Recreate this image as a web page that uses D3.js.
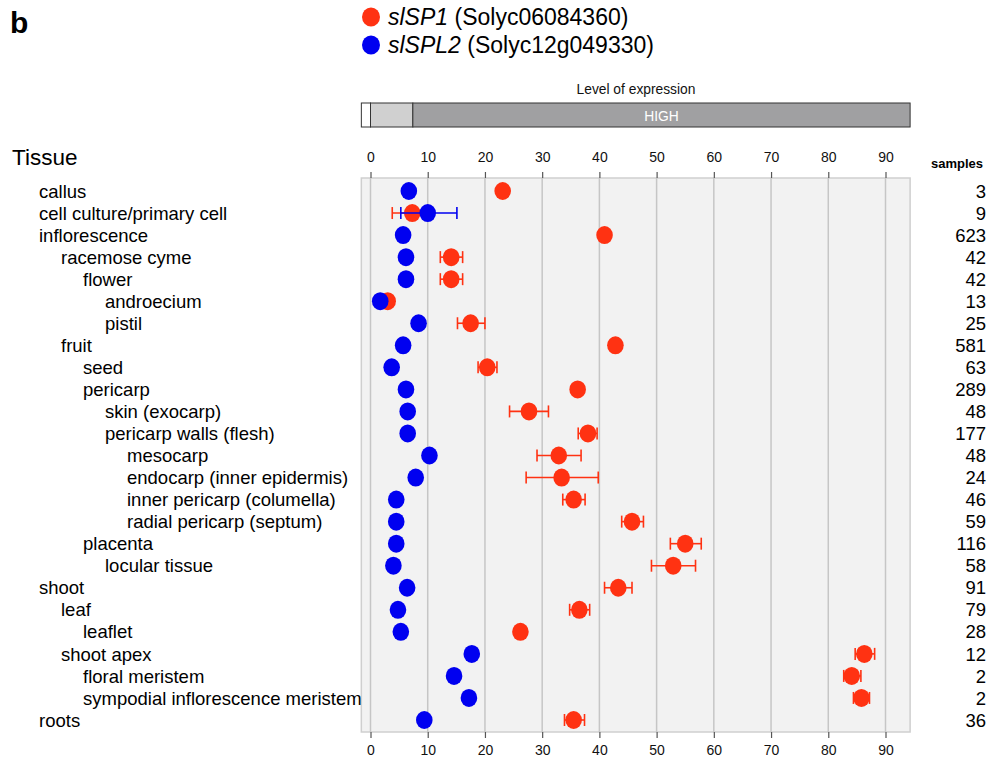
<!DOCTYPE html>
<html><head><meta charset="utf-8">
<script src="https://cdn.jsdelivr.net/npm/d3@7"></script>
<style>
body{margin:0;background:#fff;}
svg{display:block;font-family:"Liberation Sans",Arial,Helvetica,sans-serif;}
</style></head>
<body><svg id="c" width="987" height="768"></svg>
<script>
const tissues = ["callus","cell culture/primary cell","inflorescence","racemose cyme","flower","androecium","pistil","fruit","seed","pericarp","skin (exocarp)","pericarp walls (flesh)","mesocarp","endocarp (inner epidermis)","inner pericarp (columella)","radial pericarp (septum)","placenta","locular tissue","shoot","leaf","leaflet","shoot apex","floral meristem","sympodial inflorescence meristem","roots"];
const levels = [0,0,0,1,2,3,3,1,2,2,3,3,4,4,4,4,2,3,0,1,2,1,2,2,0];
const samples = [3,9,623,42,42,13,25,581,63,289,48,177,48,24,46,59,116,58,91,79,28,12,2,2,36];
// slSP1 (red): mean, lower, upper (null = no error bar)
const sp1 = [23.1,7.3,40.9,14.1,14.1,3.0,17.5,42.8,20.4,36.2,27.7,38.0,32.9,33.4,35.5,45.7,55.0,52.9,43.3,36.5,26.2,86.3,84.1,85.8,35.5];
const sp1Lo = [null,3.8,null,12.2,12.2,null,15.2,null,18.8,null,24.3,36.3,29.1,27.2,33.6,43.9,52.4,49.1,40.9,34.8,null,84.7,82.7,84.4,33.9];
const sp1Hi = [null,10.8,null,16.1,16.1,null,20.0,null,22.1,null,31.1,39.6,36.8,39.8,37.5,47.7,57.8,56.8,45.7,38.3,null,88.1,85.7,87.2,37.4];
// slSPL2 (blue)
const spl2 = [6.7,10.0,5.7,6.2,6.2,1.7,8.4,5.7,3.7,6.2,6.5,6.5,10.3,7.9,4.5,4.5,4.5,4.0,6.4,4.8,5.3,17.7,14.6,17.2,9.4];
const spl2Lo = [null,5.3,null,null,null,null,null,null,null,null,null,null,null,null,null,null,null,null,null,null,null,null,null,null,null];
const spl2Hi = [null,15.1,null,null,null,null,null,null,null,null,null,null,null,null,null,null,null,null,null,null,null,null,null,null,null];
const ticks = [0,10,20,30,40,50,60,70,80,90];
const exprBands = [{label:"",from:-1.6,to:0,fill:"#ffffff"},{label:"",from:0,to:7.4,fill:"#d0d0d0"},{label:"HIGH",from:7.4,to:94.3,fill:"#a0a0a2"}];
const domainX = [-1.6, 94.3];

const RED = "#ff3212", BLUE = "#0000f0";
const svg = d3.select("#c");
const x = d3.scaleLinear().domain([0,90]).range([370.5,885.5]);
const y = d3.scalePoint().domain(tissues).range([191,720]);
const plotTop = 178, plotBottom = 732;

// title b
svg.append("text").attr("x",10).attr("y",33).attr("font-size",30).attr("font-weight","bold").attr("fill","#000").text("b");

// legend
const leg = [{c:RED,g:"slSP1",id:" (Solyc06084360)",y:17},{c:BLUE,g:"slSPL2",id:" (Solyc12g049330)",y:45}];
leg.forEach(l=>{
  svg.append("ellipse").attr("cx",371).attr("cy",l.y).attr("rx",9).attr("ry",9.5).attr("fill",l.c);
  const t = svg.append("text").attr("x",388).attr("y",l.y+8).attr("font-size",23).attr("fill","#000");
  t.append("tspan").attr("font-style","italic").text(l.g);
  t.append("tspan").text(l.id);
});

// level of expression
svg.append("text").attr("x",636).attr("y",94).attr("text-anchor","middle").attr("font-size",13.8).attr("fill","#111").text("Level of expression");
const bar = svg.append("g");
exprBands.forEach(b=>{
  bar.append("rect").attr("x",x(b.from)).attr("y",103).attr("width",x(b.to)-x(b.from)).attr("height",24)
    .attr("fill",b.fill).attr("stroke","#333").attr("stroke-width",1);
  if(b.label) bar.append("text").attr("x",(x(b.from)+x(b.to))/2).attr("y",120.5).attr("text-anchor","middle")
    .attr("font-size",13.8).attr("fill","#fff").text(b.label);
});

// Tissue header
svg.append("text").attr("x",12).attr("y",165).attr("font-size",22.5).attr("fill","#000").text("Tissue");
svg.append("text").attr("x",931).attr("y",168).attr("font-size",13).attr("font-weight","bold").attr("fill","#000").text("samples");

// plot background
svg.append("rect").attr("x",x(domainX[0])).attr("y",plotTop).attr("width",x(domainX[1])-x(domainX[0])).attr("height",plotBottom-plotTop)
  .attr("fill","#f2f2f2").attr("stroke","#cfcfcf").attr("stroke-width",1.5);

// grid
svg.append("g").selectAll("line").data(ticks).join("line")
  .attr("x1",d=>x(d)).attr("x2",d=>x(d)).attr("y1",plotTop).attr("y2",plotBottom)
  .attr("stroke","#c6c6c6").attr("stroke-width",1.5);

// axes
const axT = svg.append("g").attr("transform",`translate(0,${plotTop})`).call(d3.axisTop(x).tickValues(ticks).tickSize(6).tickPadding(10));
const axB = svg.append("g").attr("transform",`translate(0,${plotBottom})`).call(d3.axisBottom(x).tickValues(ticks).tickSize(6).tickPadding(7));
[axT,axB].forEach(a=>{
  a.select(".domain").remove();
  a.selectAll(".tick line").attr("stroke","#555").attr("stroke-width",1.2);
  a.selectAll(".tick text").attr("font-size",14).attr("fill","#111").attr("font-family","Liberation Sans, Arial, sans-serif");
});

// row labels
svg.append("g").selectAll("text").data(tissues).join("text")
  .attr("x",(d,i)=>39+levels[i]*22).attr("y",d=>y(d)).attr("dy","0.36em")
  .attr("font-size",18.5).attr("fill","#000").text(d=>d);
// samples
svg.append("g").selectAll("text").data(tissues).join("text")
  .attr("x",986).attr("y",d=>y(d)).attr("dy","0.36em").attr("text-anchor","end")
  .attr("font-size",18.5).attr("fill","#000").text((d,i)=>samples[i]);

function series(vals, lo, hi, color){
  const g = svg.append("g");
  const eb = tissues.map((t,i)=>({t,lo:lo[i],hi:hi[i]})).filter(d=>d.lo!=null);
  const e = g.selectAll("g.eb").data(eb).join("g").attr("stroke",color).attr("stroke-width",1.6);
  e.append("line").attr("x1",d=>x(d.lo)).attr("x2",d=>x(d.hi)).attr("y1",d=>y(d.t)).attr("y2",d=>y(d.t));
  e.append("line").attr("x1",d=>x(d.lo)).attr("x2",d=>x(d.lo)).attr("y1",d=>y(d.t)-6).attr("y2",d=>y(d.t)+6);
  e.append("line").attr("x1",d=>x(d.hi)).attr("x2",d=>x(d.hi)).attr("y1",d=>y(d.t)-6).attr("y2",d=>y(d.t)+6);
  g.selectAll("ellipse").data(tissues).join("ellipse")
    .attr("cx",(d,i)=>x(vals[i])).attr("cy",d=>y(d)).attr("rx",8.3).attr("ry",9).attr("fill",color);
}
series(sp1, sp1Lo, sp1Hi, RED);
series(spl2, spl2Lo, spl2Hi, BLUE);
</script></body></html>
